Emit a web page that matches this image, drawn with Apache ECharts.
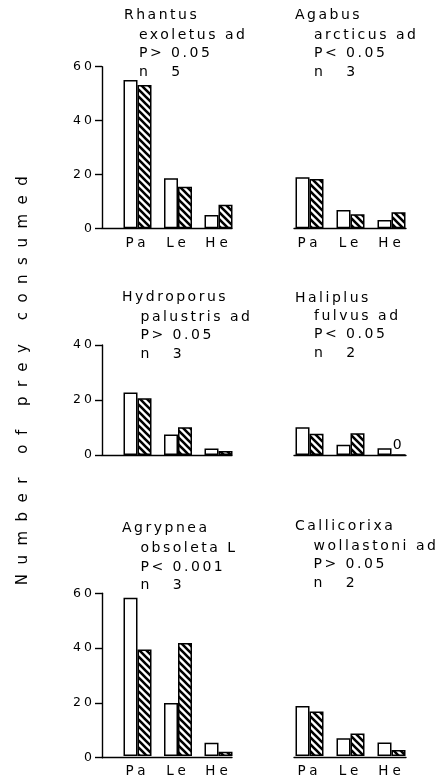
<!DOCTYPE html>
<html><head><meta charset="utf-8">
<script src="https://cdn.jsdelivr.net/npm/echarts@6/dist/echarts.min.js"></script>
<style>html,body{margin:0;padding:0;background:#fff}#c{width:440px;height:780px}</style>
</head><body><div id="c"></div>
<script>
// ---------------- data ----------------
const categories = ['Pa', 'Le', 'He'];
const rhantusOpen = [55.1, 18.6, 4.9];
const rhantusHatched = [53.2, 15.4, 8.7];
const agabusOpen = [19.0, 6.8, 3.1];
const agabusHatched = [18.3, 5.2, 6.0];
const hydroporusOpen = [22.7, 7.5, 2.4];
const hydroporusHatched = [20.6, 10.1, 1.5];
const haliplusOpen = [10.1, 3.7, 2.5];
const haliplusHatched = [7.7, 7.9, 0];
const agrypneaOpen = [58.4, 19.5, 4.9];
const agrypneaHatched = [39.3, 41.7, 1.6];
const callicorixaOpen = [18.4, 6.5, 5.0];
const callicorixaHatched = [16.4, 8.3, 2.2];
const genusNames = ['Rhantus', 'Agabus', 'Hydroporus', 'Haliplus', 'Agrypnea', 'Callicorixa'];
const speciesNames = ['exoletus ad', 'arcticus ad', 'palustris ad', 'fulvus ad', 'obsoleta L', 'wollastoni ad'];
const pValues = ['P> 0.05', 'P< 0.05', 'P> 0.05', 'P< 0.05', 'P< 0.001', 'P> 0.05'];
const nValues = ['n   5', 'n   3', 'n   3', 'n   2', 'n   3', 'n   2'];
const yMaxByRow = [60, 40, 60];
const yTickInterval = 20;
const yAxisTitle = 'Number of prey consumed';

// ---------------- letter spacing (the original typesetting is widely tracked) ----------------
(function () {
  const P = CanvasRenderingContext2D.prototype;
  const map = { '14': 2.5, '13.5': 4, '12.5': 3, '15': 9.5 };
  function sp(font) {
    const m = /(\d+(?:\.\d+)?)px/.exec(font || '');
    if (!m) return '0px';
    const v = map[String(parseFloat(m[1]))];
    return (v || 0) + 'px';
  }
  ['fillText', 'strokeText', 'measureText'].forEach(function (k) {
    const orig = P[k];
    P[k] = function () {
      if ('letterSpacing' in this) this.letterSpacing = sp(this.font);
      return orig.apply(this, arguments);
    };
  });
})();

// ---------------- hatch pattern ----------------
function makeHatch() {
  const s = 7;
  const c = document.createElement('canvas');
  c.width = s; c.height = s;
  const g = c.getContext('2d');
  g.fillStyle = '#fff'; g.fillRect(0, 0, s, s);
  g.strokeStyle = '#000'; g.lineWidth = 2.6;
  g.beginPath();
  [-s, 0, s].forEach(function (o) { g.moveTo(o - 1, -1); g.lineTo(o + s + 1, s + 1); });
  g.stroke();
  return c;
}
const hatch = { image: makeHatch(), repeat: 'repeat' };

// ---------------- layout ----------------
const openData = [rhantusOpen, agabusOpen, hydroporusOpen, haliplusOpen, agrypneaOpen, callicorixaOpen];
const hatchedData = [rhantusHatched, agabusHatched, hydroporusHatched, haliplusHatched, agrypneaHatched, callicorixaHatched];
const rows = [{ top: 66.7, height: 161.6 }, { top: 345, height: 110 }, { top: 593.3, height: 164.4 }];
const cols = [
  { axisLeft: 102, axisWidth: 130, barLeft: 117.25, barWidth: 121.5 },
  { axisLeft: 294, axisWidth: 112, barLeft: 289, barWidth: 123 }
];
const titlePos = [
  { gl: 124, gt: 5.5, bl: 139, bt: 25.75 },
  { gl: 295, gt: 5.5, bl: 314, bt: 25.75 },
  { gl: 122, gt: 287.7, bl: 140.5, bt: 308 },
  { gl: 295, gt: 288.5, bl: 314, bt: 307 },
  { gl: 122, gt: 518.7, bl: 140.5, bt: 539.3 },
  { gl: 295, gt: 517.2, bl: 313.5, bt: 536.7 }
];
const FONT = 'DejaVu Sans';
const INK = '#000';

const grid = [], xAxis = [], yAxis = [], series = [], title = [];
for (let i = 0; i < 6; i++) {
  const r = Math.floor(i / 2), c = i % 2;
  const row = rows[r], col = cols[c];
  const yMax = yMaxByRow[r];
  const ga = 2 * i, gb = 2 * i + 1;
  grid.push({ left: col.axisLeft, top: row.top, width: col.axisWidth, height: row.height });
  grid.push({ left: col.barLeft, top: row.top, width: col.barWidth, height: row.height });
  xAxis.push({
    gridIndex: ga, type: 'category', data: categories,
    axisLine: { show: true, lineStyle: { color: INK, width: 1.4 } },
    axisTick: { show: false }, axisLabel: { show: false }, splitLine: { show: false }
  });
  xAxis.push({
    gridIndex: gb, type: 'category', data: categories,
    axisLine: { show: false }, axisTick: { show: false }, splitLine: { show: false },
    axisLabel: { show: r !== 1, margin: 6, fontFamily: FONT, fontSize: 13.5, color: INK }
  });
  yAxis.push({
    gridIndex: ga, type: 'value', min: 0, max: yMax, interval: yTickInterval, show: c === 0,
    axisLine: { show: true, lineStyle: { color: INK, width: 1.4 } },
    axisTick: { show: true, length: 7, lineStyle: { color: INK, width: 1.4 } },
    axisLabel: { margin: 7, fontFamily: FONT, fontSize: 12.5, color: INK },
    splitLine: { show: false }
  });
  yAxis.push({ gridIndex: gb, type: 'value', min: 0, max: yMax, show: false, splitLine: { show: false } });

  series.push({
    type: 'bar', xAxisIndex: gb, yAxisIndex: gb, data: openData[i],
    barWidth: 14, barGap: '0%', silent: true,
    itemStyle: { color: '#fff', borderColor: INK, borderWidth: 1.5 }
  });
  series.push({
    type: 'bar', xAxisIndex: gb, yAxisIndex: gb, barWidth: 14, barGap: '0%', silent: true,
    data: hatchedData[i].map(function (v) {
      return v === 0 ? { value: 0, label: { show: true, position: 'top', distance: 1, formatter: '0',
        fontFamily: FONT, fontSize: 14, color: INK } } : v;
    }),
    itemStyle: { color: hatch, borderColor: INK, borderWidth: 1.5 }
  });

  const tp = titlePos[i];
  title.push({
    text: genusNames[i], left: tp.gl, top: tp.gt, padding: 0,
    textStyle: { fontFamily: FONT, fontSize: 14, fontWeight: 'normal', color: INK, lineHeight: 19 }
  });
  title.push({
    text: [speciesNames[i], pValues[i], nValues[i]].join('\n'), left: tp.bl, top: tp.bt, padding: 0,
    textStyle: { fontFamily: FONT, fontSize: 14, fontWeight: 'normal', color: INK, lineHeight: 18.5 }
  });
}

const chart = echarts.init(document.getElementById('c'), null, { renderer: 'canvas' });
chart.setOption({
  backgroundColor: '#fff',
  animation: false,
  title: title,
  grid: grid,
  xAxis: xAxis,
  yAxis: yAxis,
  series: series,
  graphic: [{
    type: 'text', x: 23, y: 376, rotation: Math.PI / 2, silent: true,
    style: {
      text: yAxisTitle, font: '15px "DejaVu Sans"', fill: INK,
      align: 'center', verticalAlign: 'middle', textAlign: 'center', textVerticalAlign: 'middle'
    }
  }]
});
</script>
</body></html>
